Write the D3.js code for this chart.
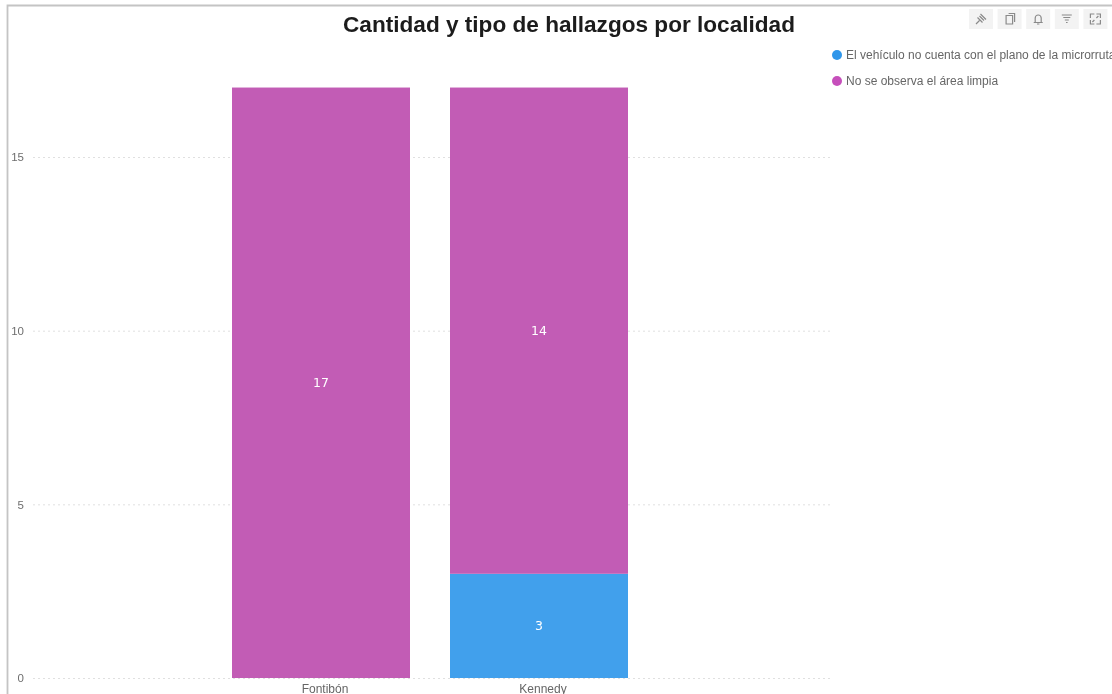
<!DOCTYPE html>
<html><head><meta charset="utf-8">
<script src="https://cdn.jsdelivr.net/npm/d3@7"></script>
<style>
html,body{margin:0;padding:0;background:#fff;overflow:hidden}
svg{display:block;font-family:"Liberation Sans",Arial,sans-serif;filter:blur(0.55px)}
</style></head><body><div id="chart"></div>
<script>
const title = "Cantidad y tipo de hallazgos por localidad";
const localities = ["Fontibón","Kennedy"];
const seriesNames = ["El vehículo no cuenta con el plano de la microrruta","No se observa el área limpia"];
const seriesColors = ["#41A0EC","#C25CB5"];
const legendDots = ["#2F96EA","#C64FBB"];
const noPlano = [0,3];
const noLimpia = [17,14];
const yTicks = [0,5,10,15];

const W=1112,H=694;
const svg=d3.select("#chart").append("svg").attr("width",W).attr("height",H);

// frame
svg.append("path").attr("d",`M7.5 ${H}V5.5H${W}`).attr("fill","none").attr("stroke","#c4c4c4").attr("stroke-width",1.8);

const y=d3.scaleLinear().domain([0,15]).range([678,157]);
const x=d3.scaleBand().domain(localities).range([232,628]).paddingInner(0.1835).paddingOuter(0);

// axes
const yAxis=d3.axisLeft(y).tickValues(yTicks).tickSize(0).tickPadding(0);
const gy=svg.append("g").attr("transform","translate(24,0)").call(yAxis);
gy.select(".domain").remove();
gy.selectAll("text").attr("fill","#6e6e6e").attr("font-size",11.5);

svg.append("g").selectAll("line").data(yTicks).join("line")
  .attr("x1",33).attr("x2",831).attr("y1",d=>y(d)+.5).attr("y2",d=>y(d)+.5)
  .attr("stroke","#e0e0e0").attr("stroke-width",1).attr("stroke-dasharray","2 3");

const xAxis=d3.axisBottom(x).tickSize(0).tickPadding(0);
const gx=svg.append("g").attr("transform","translate(4,684)").call(xAxis);
gx.select(".domain").remove();
gx.selectAll("text").attr("fill","#666").attr("font-size",12).attr("dy",0).attr("y",9);

// stacks
const rows=localities.map((l,i)=>({loc:l,a:noPlano[i],b:noLimpia[i]}));
const stack=d3.stack().keys(["a","b"])(rows);
const layers=svg.append("g").selectAll("g").data(stack).join("g").attr("fill",(d,i)=>seriesColors[i]);
layers.selectAll("rect").data(d=>d).join("rect")
  .attr("x",d=>x(d.data.loc)).attr("width",x.bandwidth())
  .attr("y",d=>y(d[1])).attr("height",d=>y(d[0])-y(d[1]));
const lab=svg.append("g").selectAll("g").data(stack).join("g");
lab.selectAll("text").data(d=>d.filter(s=>s[1]-s[0]>0)).join("text")
  .attr("x",d=>x(d.data.loc)+x.bandwidth()/2).attr("y",d=>y((d[0]+d[1])/2))
  .attr("dy","0.36em").attr("text-anchor","middle").attr("fill","#fff")
  .attr("font-size",12.5).attr("font-family","'DejaVu Sans',sans-serif").text(d=>d[1]-d[0]);

// title
svg.append("text").attr("x",569).attr("y",32).attr("text-anchor","middle")
  .attr("font-size",22.6).attr("font-weight",700).attr("fill","#1c1c1c").text(title);

// legend
const leg=svg.append("g").selectAll("g").data(seriesNames).join("g")
  .attr("transform",(d,i)=>`translate(837,${55+i*26})`);
leg.append("circle").attr("r",5).attr("fill",(d,i)=>legendDots[i]);
leg.append("text").attr("x",9).attr("dy","0.35em").attr("font-size",12).attr("fill","#666").text(d=>d);

// toolbar
const icons=[
 "M-5 5L-1.5 1.5M-3.5 -1.5L1.5 3.5M-1.5 -3L3 1.5M-.5 -5L5 .5Z",
 "M-3.5 -3.5H3V5H-3.5ZM-1 -5.5H5V3",
 "M-4.5 3.5H4.5M-3 3.5V-1A3 3 0 0 1 3 -1V3.5M-1.2 5H1.2",
 "M-5 -4H5M-3.5 -1.5H3.5M-2 1H2M-.8 3.5H.8",
 "M-5 -1V-5H-1M1 -5H5V-1M5 1V5H1M-1 5H-5V1M-3 3L-1 1M1 -1L3 -3"
];
const tb=svg.append("g").selectAll("g").data(icons).join("g")
  .attr("transform",(d,i)=>`translate(${981+i*28.6},19)`);
tb.append("rect").attr("x",-12).attr("y",-10).attr("width",24).attr("height",20).attr("fill","#f3f3f3");
tb.append("path").attr("d",d=>d).attr("fill","none").attr("stroke","#8a8a8a").attr("stroke-width",1.2);
</script></body></html>
